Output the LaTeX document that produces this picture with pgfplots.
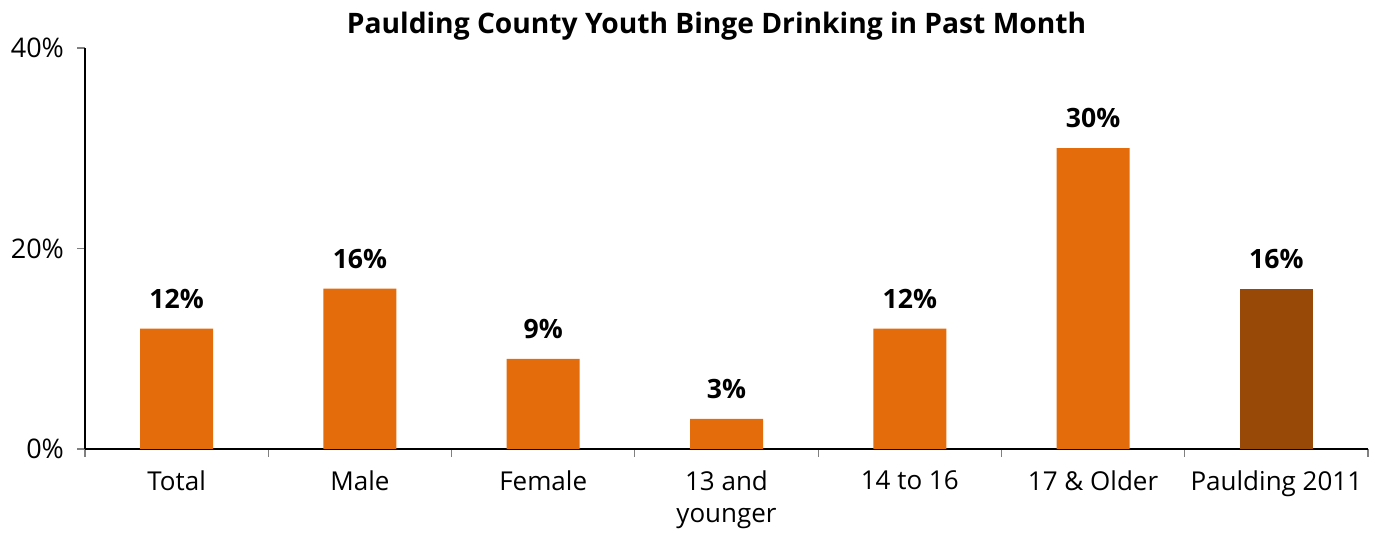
\documentclass[border=0pt]{standalone}
\usepackage{fontspec}
\setmainfont{Open Sans}
\usepackage{pgfplots}
\pgfplotsset{compat=1.18}
\definecolor{barorange}{HTML}{E46C0A}
\definecolor{bardark}{HTML}{984807}
\definecolor{tickgray}{HTML}{808080}
\begin{document}
\begin{tikzpicture}
\useasboundingbox (-42.5pt,-42pt) rectangle (645pt,224.5pt);
\begin{axis}[
  at={(0,0)}, anchor=south west,
  scale only axis,
  width=641.5pt, height=200.5pt,
  xmin=-0.5, xmax=6.5,
  ymin=0, ymax=40,
  axis x line*=bottom,
  axis y line*=left,
  axis line style={black, line width=0.6pt},
  ytick={0,20,40},
  yticklabel={\pgfmathprintnumber{\tick}\%},
  /pgf/number format/assume math mode=true,
  xtick={0,1,2,3,4,5,6},
  xticklabels={Total,Male,Female,{13 and\\younger},14 to 16,17 \& Older,Paulding 2011},
  minor xtick={-0.5,0.5,1.5,2.5,3.5,4.5,5.5,6.5},
  major x tick style={draw=none},
  minor x tick style={tickgray, line width=0.6pt},
  y tick style={tickgray, line width=0.6pt},
  tick align=outside,
  major tick length=4pt,
  minor tick length=4pt,
  xticklabel style={align=center, font=\fontsize{13}{16}\selectfont, anchor=north, yshift=-3.5pt},
  yticklabel style={font=\fontsize{13.5}{16}\selectfont, xshift=-3pt},
  ybar, bar width=36.5pt, bar shift=0pt,
  nodes near coords={\pgfmathprintnumber{\pgfplotspointmeta}\%},
  nodes near coords style={font=\bfseries\fontsize{13.3}{16}\selectfont, /pgf/number format/assume math mode=true, yshift=6.5pt},
  clip=false,
]
\addplot[fill=barorange, draw=none] coordinates {(0,12) (1,16) (2,9) (3,3) (4,12) (5,30)};
\addplot[fill=bardark, draw=none] coordinates {(6,16)};
\end{axis}
\node[font=\bfseries\fontsize{14.1}{17}\selectfont] at (315.8pt,211.5pt) {Paulding County Youth Binge Drinking in Past Month};
\end{tikzpicture}
\end{document}
